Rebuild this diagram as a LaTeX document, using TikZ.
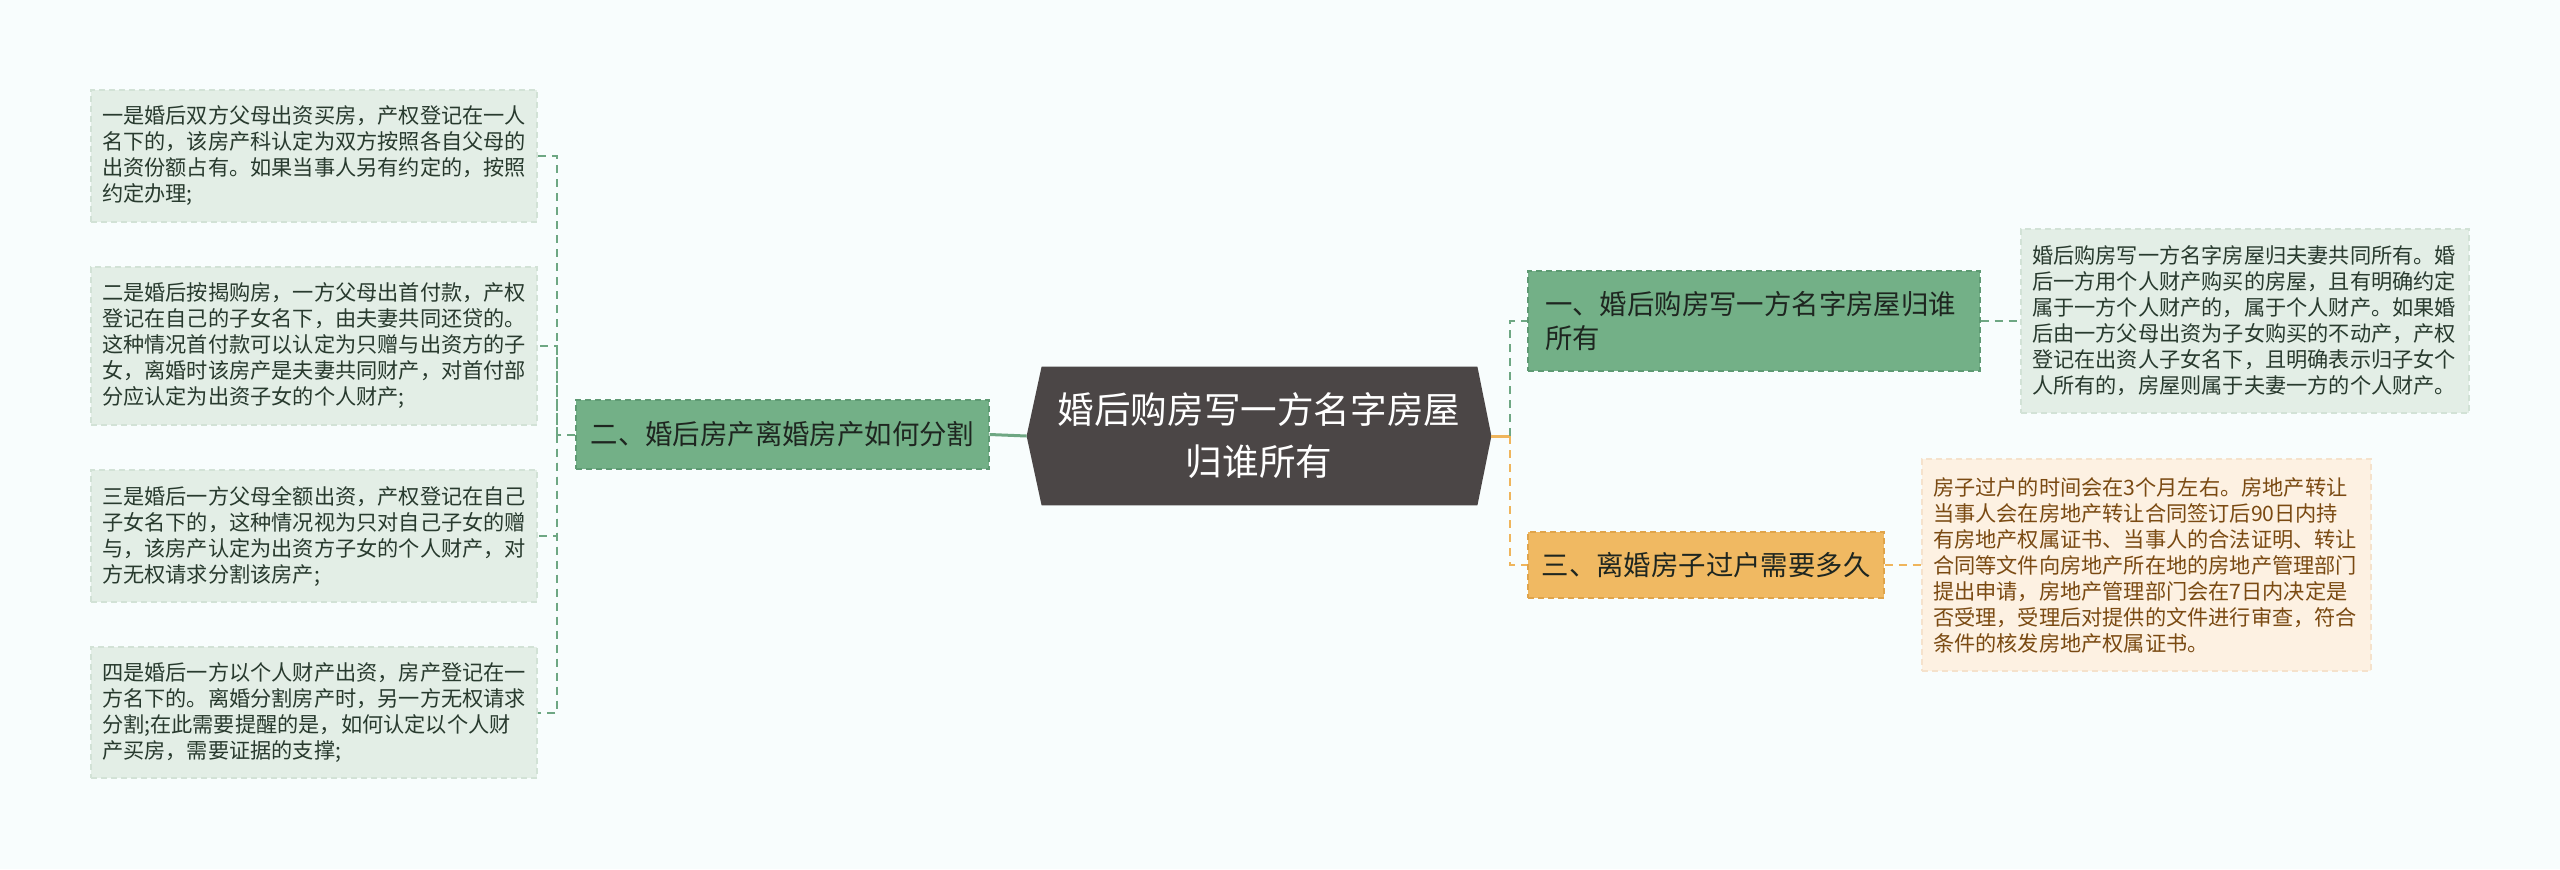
\documentclass[tikz,border=0pt]{standalone}
\usepackage{fontspec}
\newfontfamily\cjk{Noto Sans CJK SC}
\usetikzlibrary{backgrounds}
\definecolor{bgc}{HTML}{F8FDFD}
\definecolor{leafgfill}{HTML}{E3EEE6}
\definecolor{leafgdraw}{HTML}{D2E2D6}
\definecolor{leafgtext}{HTML}{283A2E}
\definecolor{midgfill}{HTML}{73B087}
\definecolor{midgdraw}{HTML}{5E9A73}
\definecolor{midtext}{HTML}{1E2620}
\definecolor{darkc}{HTML}{4B4646}
\definecolor{orfill}{HTML}{F0B962}
\definecolor{ordraw}{HTML}{E0A44A}
\definecolor{peachfill}{HTML}{FDF1E2}
\definecolor{peachdraw}{HTML}{F5E2CC}
\definecolor{peachtext}{HTML}{7A4A12}
\definecolor{gline}{HTML}{6EA783}
\definecolor{oline}{HTML}{EFB55C}
\tikzset{
  boxbase/.style={rectangle, dash pattern=on 3pt off 2pt, line width=0.6pt, inner ysep=0pt},
  leafg/.style={boxbase, draw=leafgdraw, fill=leafgfill, text=leafgtext,
    font=\cjk\fontsize{10.6pt}{13pt}\selectfont, align=left, inner xsep=5.5pt,
    text width=212pt, minimum width=223pt},
  leafo/.style={boxbase, draw=peachdraw, fill=peachfill, text=peachtext,
    font=\cjk\fontsize{10.6pt}{13pt}\selectfont, align=left, inner xsep=5.5pt,
    text width=213.5pt, minimum width=224.5pt},
  midg/.style={boxbase, draw=midgdraw, fill=midgfill, text=midtext,
    font=\cjk\fontsize{13.7pt}{17pt}\selectfont},
  mido/.style={boxbase, draw=ordraw, fill=orfill, text=midtext,
    font=\cjk\fontsize{13.7pt}{17pt}\selectfont},
  centertext/.style={rectangle, text=white, align=center, inner sep=0pt,
    font=\cjk\fontsize{18.3pt}{26pt}\selectfont, minimum width=232pt, minimum height=69pt},
  gdash/.style={draw=gline, line width=1pt, dash pattern=on 4pt off 3pt},
  odash/.style={draw=oline, line width=1pt, dash pattern=on 4pt off 3pt},
  gsolid/.style={draw=gline, line width=1.5pt},
  osolid/.style={draw=oline, line width=1.5pt},
}
\begin{document}
\begin{tikzpicture}[x=0.5pt,y=-0.5pt]
\useasboundingbox (0,0) rectangle (2560,869);

% left leaves
\node[leafg, minimum height=66pt] (l1) at (314,156) {一是婚后双方父母出资买房，产权登记在一人\\名下的，该房产科认定为双方按照各自父母的\\出资份额占有。如果当事人另有约定的，按照\\约定办理;};
\node[leafg, minimum height=79pt] (l2) at (314,346) {二是婚后按揭购房，一方父母出首付款，产权\\登记在自己的子女名下，由夫妻共同还贷的。\\这种情况首付款可以认定为只赠与出资方的子\\女，离婚时该房产是夫妻共同财产，对首付部\\分应认定为出资子女的个人财产;};
\node[leafg, minimum height=66pt] (l3) at (314,536) {三是婚后一方父母全额出资，产权登记在自己\\子女名下的，这种情况视为只对自己子女的赠\\与，该房产认定为出资方子女的个人财产，对\\方无权请求分割该房产;};
\node[leafg, minimum height=65.5pt] (l4) at (314,712.5) {四是婚后一方以个人财产出资，房产登记在一\\方名下的。离婚分割房产时，另一方无权请求\\分割;在此需要提醒的是，如何认定以个人财\\产买房，需要证据的支撑;};

% mid nodes
\node[midg, minimum width=206.5pt, minimum height=34.5pt] (n2) at (782.5,434.5) {二、婚后房产离婚房产如何分割};
\node[centertext] (c) at (1259,436) {婚后购房写一方名字房屋\\归谁所有};
\node[midg, minimum width=226pt, minimum height=50pt, align=left, inner xsep=8.5pt, text width=209pt] (n1) at (1754,321) {一、婚后购房写一方名字房屋归谁\\所有};
\node[mido, minimum width=178pt, minimum height=33pt] (n3) at (1706,565) {三、离婚房子过户需要多久};

% right leaves
\node[leafg, text width=213pt, minimum width=224pt, minimum height=92pt] (r1) at (2245,321) {婚后购房写一方名字房屋归夫妻共同所有。婚\\后一方用个人财产购买的房屋，且有明确约定\\属于一方个人财产的，属于个人财产。如果婚\\后由一方父母出资为子女购买的不动产，产权\\登记在出资人子女名下，且明确表示归子女个\\人所有的，房屋则属于夫妻一方的个人财产。};
\node[leafo, minimum height=106pt] (r3) at (2146.5,565) {房子过户的时间会在3个月左右。房地产转让\\当事人会在房地产转让合同签订后90日内持\\有房地产权属证书、当事人的合法证明、转让\\合同等文件向房地产所在地的房地产管理部门\\提出申请，房地产管理部门会在7日内决定是\\否受理，受理后对提供的文件进行审查，符合\\条件的核发房地产权属证书。};

\begin{scope}[on background layer]
  \fill[bgc] (0,0) rectangle (2560,869);
  \fill[darkc] (c.west) -- ([xshift=7.5pt]c.north west) -- ([xshift=-7pt]c.north east)
    -- (c.east) -- ([xshift=-7pt]c.south east) -- ([xshift=7.5pt]c.south west) -- cycle;
\end{scope}

% connectors
\coordinate (lj) at (557,434.5);
\coordinate (rj) at (1510,436);
\draw[gsolid] (c.west) -- (n2.east);
\draw[gdash] (n2.west) -- (lj) |- (l1.east);
\draw[gdash] (lj) |- (l2.east);
\draw[gdash] (lj) |- (l3.east);
\draw[gdash] (lj) |- (l4.east);
\draw[osolid] (c.east) -- (rj);
\draw[gdash] (rj) |- (n1.west);
\draw[odash] (rj) |- (n3.west);
\draw[gdash] (n1.east) -- (r1.west);
\draw[odash] (n3.east) -- (r3.west);
\end{tikzpicture}
\end{document}
